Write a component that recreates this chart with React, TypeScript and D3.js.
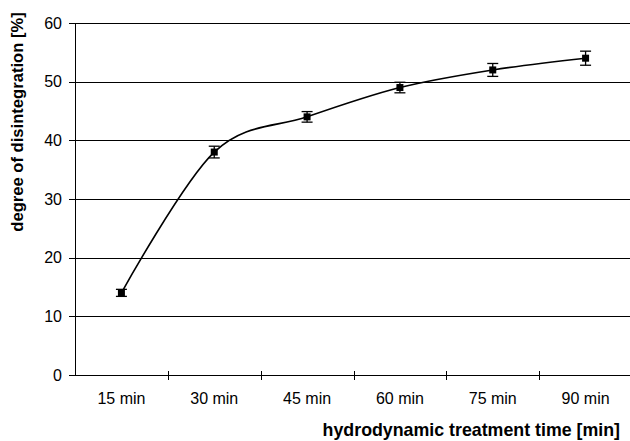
import * as d3 from 'd3'

// chart data
const categories: string[] = ['15 min', '30 min', '45 min', '60 min', '75 min', '90 min']
const values: number[] = [14, 38, 44, 49, 52, 54]
const errors: number[] = [0.6, 1.0, 0.9, 0.9, 1.1, 1.2]
const yTicks: number[] = [0, 10, 20, 30, 40, 50, 60]

const width = 630
const height = 441
const left = 75
const top = 23
const bottom = 375
const right = 632

const font = '"Liberation Sans", Arial, sans-serif'

export default function App() {
  const x = d3.scaleBand<string>().domain(categories).range([left, right])
  const y = d3.scaleLinear().domain([0, 60]).range([bottom, top])
  const cx = (c: string) => (x(c) as number) + x.bandwidth() / 2

  const pts: [number, number][] = categories.map((c, i) => [cx(c), y(values[i])])
  const line = d3.line<[number, number]>().curve(d3.curveCardinal.tension(0))
  const path = line(pts) || ''

  // band boundaries for x ticks
  const bounds = categories.map((c) => x(c) as number)

  return (
    <svg width={width} height={height} style={{ position: 'absolute', left: 0, top: 0, background: '#fff' }}
      fontFamily={font}>
      {/* grid lines */}
      {yTicks.filter((t) => t > 0).map((t) => (
        <line key={'g' + t} x1={left} x2={right} y1={Math.round(y(t)) + 0.5} y2={Math.round(y(t)) + 0.5}
          stroke="#000" strokeWidth={1} />
      ))}
      {/* y axis */}
      <line x1={left + 0.5} x2={left + 0.5} y1={top} y2={bottom + 0.5} stroke="#000" strokeWidth={1} />
      {yTicks.map((t) => (
        <g key={'y' + t}>
          <line x1={left - 6} x2={left} y1={Math.round(y(t)) + 0.5} y2={Math.round(y(t)) + 0.5} stroke="#000" />
          <text x={62} y={y(t)} dy="0.36em" textAnchor="end" fontSize={16} fill="#000">{t}</text>
        </g>
      ))}
      {/* x axis */}
      <line x1={left} x2={right} y1={bottom + 0.5} y2={bottom + 0.5} stroke="#000" strokeWidth={1} />
      {bounds.slice(1).map((b, i) => (
        <line key={'xt' + i} x1={Math.round(b) + 0.5} x2={Math.round(b) + 0.5} y1={bottom - 4} y2={bottom + 5}
          stroke="#000" />
      ))}
      {categories.map((c) => (
        <text key={c} x={cx(c)} y={404} textAnchor="middle" fontSize={16} fill="#000">{c}</text>
      ))}
      {/* curve */}
      <path d={path} fill="none" stroke="#000" strokeWidth={1.6} />
      {/* error bars and markers */}
      {categories.map((c, i) => {
        const px = cx(c)
        const y1 = y(values[i] + errors[i])
        const y0 = y(values[i] - errors[i])
        return (
          <g key={'m' + c}>
            <line x1={px} x2={px} y1={y1} y2={y0} stroke="#000" strokeWidth={1.3} />
            <line x1={px - 5.5} x2={px + 5.5} y1={y1} y2={y1} stroke="#000" strokeWidth={1.3} />
            <line x1={px - 5.5} x2={px + 5.5} y1={y0} y2={y0} stroke="#000" strokeWidth={1.3} />
            <rect x={px - 3.5} y={y(values[i]) - 3.5} width={7} height={7} fill="#000" />
          </g>
        )
      })}
      {/* axis titles */}
      <text transform="translate(23,122) rotate(-90)" textAnchor="middle" fontSize={16.6} fontWeight="bold"
        fill="#000">degree of disintegration [%]</text>
      <text x={620} y={436} textAnchor="end" fontSize={17.8} fontWeight="bold" fill="#000">
        hydrodynamic treatment time [min]
      </text>
    </svg>
  )
}
